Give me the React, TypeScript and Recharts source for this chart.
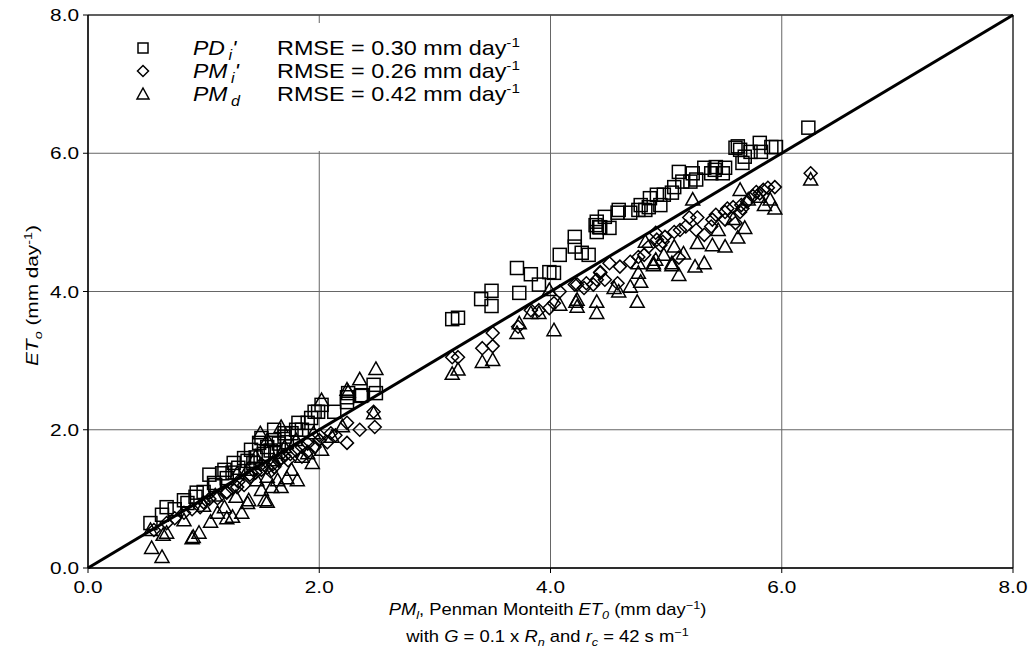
import React from "react";
import {
  ScatterChart,
  Scatter,
  XAxis,
  YAxis,
  CartesianGrid,
  ReferenceLine,
  Label,
} from "recharts";

// PD_i' (squares)
const pdPoints: [number, number][] = [
  [6.23, 6.37], [5.81, 6.15], [5.91, 6.09], [5.95, 6.09], [5.64, 6.05], [5.6, 6.08], [5.66, 5.86],
  [5.73, 6.02], [5.82, 6.02], [5.51, 5.79], [5.42, 5.76], [5.49, 5.71], [5.39, 5.71], [5.43, 5.8],
  [5.33, 5.79], [5.23, 5.71], [5.26, 5.62], [5.21, 5.59], [5.11, 5.73], [5.14, 5.59], [5.07, 5.51],
  [5.05, 5.43], [4.98, 5.4], [4.92, 5.4], [4.86, 5.35], [4.95, 5.25], [4.85, 5.22], [4.78, 5.25],
  [4.76, 5.18], [4.82, 5.18], [4.69, 5.14], [4.59, 5.18], [4.58, 5.14], [4.47, 5.08], [4.4, 5.01],
  [4.42, 4.93], [4.51, 4.92], [4.4, 4.86], [4.21, 4.79], [4.21, 4.65], [4.27, 4.56], [4.33, 4.53],
  [4.08, 4.53], [3.71, 4.34], [3.83, 4.25], [3.9, 4.1], [3.99, 4.28], [4.03, 4.27], [3.49, 4.01],
  [3.4, 3.89], [3.49, 3.79], [3.73, 3.98], [3.15, 3.6], [3.2, 3.62], [4.39, 4.96], [4.43, 4.93],
  [5.62, 6.1], [5.68, 5.95],
  [2.47, 2.65], [2.49, 2.53], [2.36, 2.49], [2.24, 2.47], [2.24, 2.4], [2.13, 2.26], [1.99, 2.26],
  [2.37, 2.5], [2.25, 2.53], [1.93, 2.17], [1.9, 2.1], [1.8, 2.0], [1.76, 1.95], [1.7, 1.9],
  [1.61, 1.85], [1.5, 1.88], [1.48, 1.81], [1.41, 1.71], [1.35, 1.59], [1.26, 1.52], [1.18, 1.42],
  [1.05, 1.35], [1.16, 1.37], [1.09, 1.23], [0.94, 1.09], [0.93, 1.03], [0.83, 0.98], [0.86, 0.94],
  [0.68, 0.88], [0.64, 0.77], [0.54, 0.65], [1.61, 2.0], [1.82, 2.1], [1.96, 2.26], [2.02, 2.36],
  [1.3, 1.45], [1.45, 1.6], [1.55, 1.75], [1.65, 1.8], [1.7, 1.95], [1.85, 2.0], [1.2, 1.3],
  [1.1, 1.2], [1.0, 1.1], [0.75, 0.85], [1.38, 1.55], [1.52, 1.65], [1.58, 1.7], [1.25, 1.38],
  [1.43, 1.52], [1.62, 1.68], [1.72, 1.82],
];

// PM_i' (diamonds)
const pmiPoints: [number, number][] = [
  [6.25, 5.71], [5.94, 5.51], [5.88, 5.5], [5.84, 5.47], [5.78, 5.44], [5.81, 5.42], [5.65, 5.25],
  [5.66, 5.2], [5.64, 5.15], [5.53, 5.2], [5.51, 5.15], [5.43, 5.11], [5.4, 5.04], [5.6, 4.99],
  [5.51, 5.04], [5.39, 4.94], [5.27, 5.07], [5.2, 5.07], [5.17, 4.94], [5.26, 4.89], [5.33, 4.82],
  [5.12, 4.89], [5.07, 4.86], [4.99, 4.79], [4.92, 4.75], [4.95, 4.67], [5.11, 4.49], [4.85, 4.65],
  [4.81, 4.53], [4.76, 4.5], [4.69, 4.43], [4.6, 4.36], [4.51, 4.41], [4.43, 4.27], [4.47, 4.17],
  [4.4, 4.17], [4.31, 4.12], [4.23, 4.1], [4.58, 4.12], [4.91, 4.85], [4.97, 4.72], [4.43, 4.28],
  [4.21, 4.1], [4.29, 4.05], [4.37, 4.1], [4.08, 4.0], [4.03, 3.83], [3.99, 3.76], [3.9, 3.73],
  [3.83, 3.73], [3.72, 3.49], [3.5, 3.4], [3.41, 3.18], [3.5, 3.21], [3.15, 3.05], [3.2, 3.05],
  [5.7, 5.3], [5.58, 5.22], [5.75, 5.38],
  [2.47, 2.26], [2.24, 2.1], [2.35, 2.0], [2.48, 2.04], [2.24, 1.81], [2.14, 1.92], [2.07, 1.82],
  [1.96, 1.75], [1.9, 1.68], [1.85, 1.61], [1.73, 1.56], [1.67, 1.59], [1.61, 1.46], [1.5, 1.42],
  [1.41, 1.32], [1.29, 1.17], [1.2, 1.09], [1.12, 1.01], [0.97, 0.88], [0.83, 0.8], [0.68, 0.65],
  [0.57, 0.55], [1.0, 0.95], [1.3, 1.25], [1.4, 1.35], [1.55, 1.45], [1.6, 1.5], [1.75, 1.65],
  [1.8, 1.7], [1.9, 1.8], [2.0, 1.85], [2.1, 1.95], [1.2, 1.1], [1.05, 1.0], [1.5, 1.5],
  [1.65, 1.55], [1.35, 1.2], [1.45, 1.38], [1.7, 1.62], [1.25, 1.15], [0.9, 0.85], [0.75, 0.72],
  [1.58, 1.4], [1.85, 1.75], [2.0, 1.92],
];

// PM_d (triangles)
const pmdPoints: [number, number][] = [
  [6.25, 5.62], [5.94, 5.2], [5.9, 5.33], [5.64, 5.47], [5.68, 4.92], [5.62, 4.78], [5.51, 4.65],
  [5.4, 4.67], [5.33, 4.41], [5.25, 4.36], [5.11, 4.24], [5.05, 4.41], [4.98, 4.53], [4.89, 4.41],
  [5.23, 5.33], [5.07, 4.65], [5.27, 4.7], [4.82, 4.72], [4.76, 4.27], [4.78, 4.14], [4.69, 4.07],
  [4.75, 3.85], [4.4, 3.69], [4.4, 3.85], [4.23, 3.88], [4.23, 3.78], [4.91, 4.46], [4.76, 4.41],
  [5.45, 4.89], [5.71, 5.33], [5.8, 5.37], [4.59, 4.0], [4.89, 4.38], [5.05, 4.38], [3.99, 4.02],
  [4.08, 3.81], [4.22, 3.85], [3.83, 3.69], [3.9, 3.69], [3.73, 3.54], [3.71, 3.4], [4.03, 3.44],
  [3.5, 3.01], [3.41, 2.98], [3.2, 2.87], [3.15, 2.81], [5.58, 5.05], [5.85, 5.25], [4.55, 4.05],
  [5.15, 4.55],
  [2.49, 2.88], [2.35, 2.73], [2.24, 2.58], [2.47, 2.24], [2.02, 2.43], [1.49, 1.95], [1.67, 2.04],
  [1.94, 1.52], [1.81, 1.27], [1.72, 1.3], [1.67, 1.17], [1.59, 1.17], [1.5, 1.13], [1.55, 0.96],
  [1.53, 0.98], [1.38, 0.94], [1.33, 0.8], [1.25, 0.74], [1.2, 0.72], [1.06, 0.67], [0.96, 0.51],
  [0.91, 0.45], [0.9, 0.43], [0.83, 0.69], [0.68, 0.51], [0.65, 0.48], [0.55, 0.29], [0.64, 0.16],
  [0.54, 0.55], [2.02, 1.71], [2.11, 1.9], [1.85, 1.61], [1.39, 0.98], [1.28, 1.03], [1.76, 1.42],
  [1.64, 1.27], [1.55, 1.32], [1.46, 1.27], [1.45, 1.61], [1.61, 1.56], [1.38, 1.42], [1.18, 0.88],
  [1.12, 0.8], [1.29, 1.37], [1.9, 1.66], [1.55, 1.85], [1.1, 1.05], [1.7, 1.75], [1.8, 1.85],
  [1.0, 0.9], [1.95, 1.95], [2.2, 2.05], [2.25, 2.55],
];

const axisTicks = [0, 2, 4, 6, 8];
const axisDomain: [number, number] = [0, 8];
const oneToOne = [0, 8];

const legendItems = [
  { shape: "square", name: "PD", sub: "i", prime: "'", rmse: "0.30" },
  { shape: "diamond", name: "PM", sub: "i", prime: "'", rmse: "0.26" },
  { shape: "triangle", name: "PM", sub: "d", prime: "", rmse: "0.42" },
];

const FONT = "'Liberation Sans', Arial, Helvetica, sans-serif";
const SX = 1.3; // horizontal stretch of the scanned lettering

const toObjs = (pts: [number, number][]) => pts.map(([x, y]) => ({ x, y }));

const SquareShape = (p: any) => {
  const { cx, cy } = p;
  if (cx == null || cy == null) return <g />;
  return <rect x={cx - 6.5} y={cy - 6.5} width={13} height={13} fill="none" stroke="#000" strokeWidth={1.5} />;
};
const DiamondShape = (p: any) => {
  const { cx, cy } = p;
  if (cx == null || cy == null) return <g />;
  const r = 6.5;
  return (
    <polygon
      points={`${cx},${cy - r} ${cx + r},${cy} ${cx},${cy + r} ${cx - r},${cy}`}
      fill="none"
      stroke="#000"
      strokeWidth={1.5}
    />
  );
};
const TriangleShape = (p: any) => {
  const { cx, cy } = p;
  if (cx == null || cy == null) return <g />;
  return (
    <polygon
      points={`${cx},${cy - 7} ${cx + 7},${cy + 5.5} ${cx - 7},${cy + 5.5}`}
      fill="none"
      stroke="#000"
      strokeWidth={1.5}
    />
  );
};

const XTick = (props: any) => {
  const { x, y, payload } = props;
  return (
    <g transform={`translate(${x},${y + 18}) scale(${SX},1)`}>
      <text x={0} y={0} textAnchor="middle" fontFamily={FONT} fontSize={16} fill="#000">
        {Number(payload.value).toFixed(1)}
      </text>
    </g>
  );
};
const YTick = (props: any) => {
  const { x, y, payload } = props;
  return (
    <g transform={`translate(${x - 2},${y + 6}) scale(${SX},1)`}>
      <text x={0} y={0} textAnchor="end" fontFamily={FONT} fontSize={16} fill="#000">
        {Number(payload.value).toFixed(1)}
      </text>
    </g>
  );
};

const XTitle = (props: any) => {
  const vb = props.viewBox || {};
  const cx = (vb.x ?? 88) + (vb.width ?? 925) / 2 - 3;
  const y0 = (vb.y ?? 568) + 47;
  return (
    <g fontFamily={FONT} fontSize={16} fill="#000">
      <g transform={`translate(${cx},${y0}) scale(1.15,1)`}>
        <text x={0} y={0} textAnchor="middle">
          <tspan fontStyle="italic">PM</tspan>
          <tspan fontStyle="italic" fontSize={11} dy={4}>l</tspan>
          <tspan dy={-4}>, Penman Monteith  </tspan>
          <tspan fontStyle="italic">ET</tspan>
          <tspan fontStyle="italic" fontSize={11} dy={4}>0</tspan>
          <tspan dy={-4}> (mm day</tspan>
          <tspan fontSize={11} dy={-6}>−1</tspan>
          <tspan dy={6}>)</tspan>
        </text>
      </g>
      <g transform={`translate(${cx},${y0 + 27}) scale(1.15,1)`}>
        <text x={0} y={0} textAnchor="middle">
          <tspan>with </tspan>
          <tspan fontStyle="italic">G</tspan>
          <tspan> = 0.1 x  </tspan>
          <tspan fontStyle="italic">R</tspan>
          <tspan fontStyle="italic" fontSize={11} dy={4}>n</tspan>
          <tspan dy={-4}> and  </tspan>
          <tspan fontStyle="italic">r</tspan>
          <tspan fontStyle="italic" fontSize={11} dy={4}>c</tspan>
          <tspan dy={-4}> = 42 s m</tspan>
          <tspan fontSize={11} dy={-6}>−1</tspan>
        </text>
      </g>
    </g>
  );
};

const YTitle = (props: any) => {
  const vb = props.viewBox || {};
  const cy = (vb.y ?? 15) + (vb.height ?? 553) / 2 + 4;
  const x = 38;
  return (
    <g fontFamily={FONT} fontSize={16} fill="#000" transform={`translate(${x},${cy}) rotate(-90) scale(1.3,1)`}>
      <text x={0} y={0} textAnchor="middle">
        <tspan fontStyle="italic">ET</tspan>
        <tspan fontStyle="italic" fontSize={11} dy={4}>o</tspan>
        <tspan dy={-4}> (mm day</tspan>
        <tspan fontSize={11} dy={-6}>-1</tspan>
        <tspan dy={6}>)</tspan>
      </text>
    </g>
  );
};

const LegendMarker = ({ shape, cx, cy }: { shape: string; cx: number; cy: number }) => {
  if (shape === "square") return <rect x={cx - 5} y={cy - 5} width={10} height={10} fill="none" stroke="#000" strokeWidth={1.5} />;
  if (shape === "diamond")
    return <polygon points={`${cx},${cy - 5.5} ${cx + 5.5},${cy} ${cx},${cy + 5.5} ${cx - 5.5},${cy}`} fill="none" stroke="#000" strokeWidth={1.5} />;
  return <polygon points={`${cx},${cy - 6} ${cx + 6},${cy + 5} ${cx - 6},${cy + 5}`} fill="none" stroke="#000" strokeWidth={1.5} />;
};

const LEG_LEFT = 89;
const LEG_TOP = 23;

const LegendBox = () => (
  <svg
    width={450}
    height={128}
    style={{ position: "absolute", left: LEG_LEFT, top: LEG_TOP, zIndex: 2 }}
  >
    <rect x={0} y={0} width={450} height={128} fill="#fff" />
    {legendItems.map((it, i) => {
      const cy = 48 - LEG_TOP + i * 23;
      return (
        <g key={i} fontFamily={FONT} fontSize={20} fill="#000">
          <LegendMarker shape={it.shape} cx={143 - LEG_LEFT} cy={cy} />
          <g transform={`translate(${193 - LEG_LEFT},${cy + 7}) scale(1.15,1)`}>
            <text x={0} y={0}>
              <tspan fontStyle="italic">{it.name}</tspan>
              <tspan fontStyle="italic" fontSize={14} dy={5} dx={3}>{it.sub}</tspan>
              <tspan fontStyle="italic" dy={-5}>{it.prime}</tspan>
            </text>
          </g>
          <g transform={`translate(${277 - LEG_LEFT},${cy + 7}) scale(1.17,1)`}>
            <text x={0} y={0}>
              <tspan>{`RMSE = ${it.rmse} mm day`}</tspan>
              <tspan fontSize={13} dy={-8}>-1</tspan>
            </text>
          </g>
        </g>
      );
    })}
  </svg>
);

export default function App() {
  return (
    <div style={{ position: "absolute", left: 0, top: 0, width: 1032, height: 663, background: "#fff" }}>
      <ScatterChart
        width={1032}
        height={663}
        margin={{ top: 15, right: 19, left: 28, bottom: 55 }}
        style={{ fontFamily: FONT }}
      >
        <CartesianGrid stroke="#666" strokeWidth={1} horizontalValues={axisTicks} verticalValues={axisTicks} />
        <XAxis
          type="number"
          dataKey="x"
          domain={axisDomain}
          ticks={axisTicks}
          axisLine={{ stroke: "#000", strokeWidth: 1.5 }}
          tickLine={{ stroke: "#000" }}
          tickSize={5}
          height={40}
          tick={<XTick />}
          allowDataOverflow
        >
          <Label content={<XTitle />} />
        </XAxis>
        <YAxis
          type="number"
          dataKey="y"
          domain={axisDomain}
          ticks={axisTicks}
          axisLine={{ stroke: "#000", strokeWidth: 1.5 }}
          tickLine={{ stroke: "#000" }}
          tickSize={5}
          width={60}
          tick={<YTick />}
          allowDataOverflow
        >
          <Label content={<YTitle />} />
        </YAxis>
        <ReferenceLine y={8} stroke="#444" strokeWidth={1.5} />
        <ReferenceLine x={8} stroke="#444" strokeWidth={1.5} />
        <Scatter name="PDi'" data={toObjs(pdPoints)} shape={<SquareShape />} isAnimationActive={false} />
        <Scatter name="PMi'" data={toObjs(pmiPoints)} shape={<DiamondShape />} isAnimationActive={false} />
        <Scatter name="PMd" data={toObjs(pmdPoints)} shape={<TriangleShape />} isAnimationActive={false} />
        <ReferenceLine
          segment={[
            { x: oneToOne[0], y: oneToOne[0] },
            { x: oneToOne[1], y: oneToOne[1] },
          ]}
          stroke="#000"
          strokeWidth={3}
        />
      </ScatterChart>
      <LegendBox />
    </div>
  );
}
